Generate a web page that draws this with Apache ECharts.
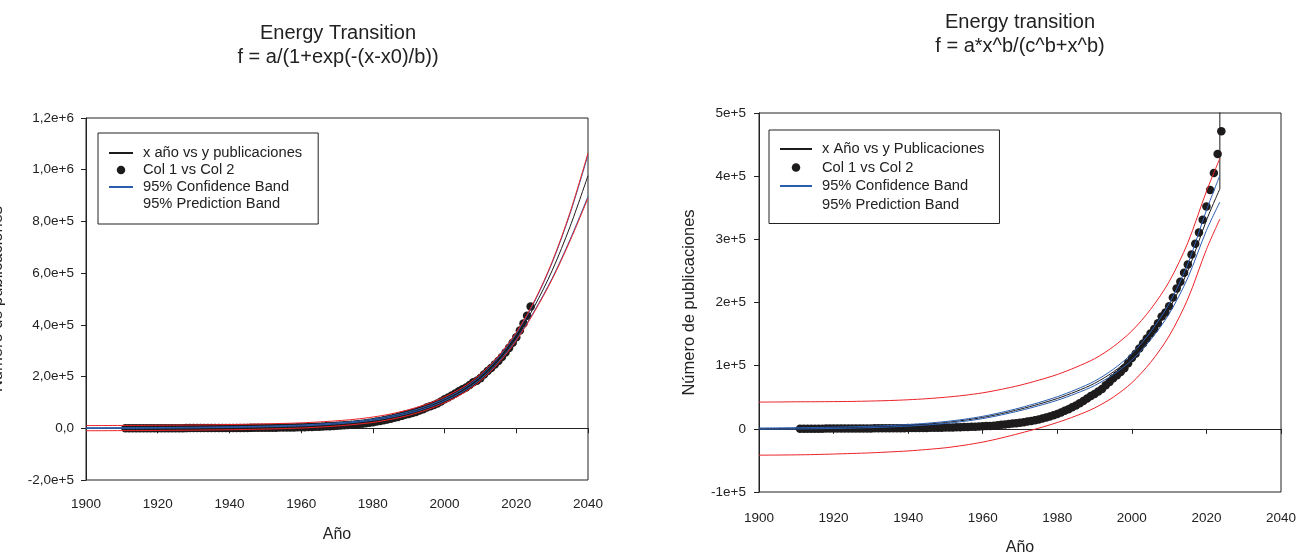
<!DOCTYPE html>
<html><head><meta charset="utf-8">
<script src="https://cdn.jsdelivr.net/npm/echarts@6/dist/echarts.min.js"></script>
<style>html,body{margin:0;padding:0;background:#fff;}#c{width:1305px;height:555px;}</style>
</head><body><div id="c"></div>
<script>
const FONT = '"Liberation Sans", Arial, Helvetica, sans-serif';
const K = 1000; // all series values below are in thousands of publications

// ---- observed data (Col 1 vs Col 2) ----
const years = [1911,1912,1913,1914,1915,1916,1917,1918,1919,1920,
  1921,1922,1923,1924,1925,1926,1927,1928,1929,1930,
  1931,1932,1933,1934,1935,1936,1937,1938,1939,1940,
  1941,1942,1943,1944,1945,1946,1947,1948,1949,1950,
  1951,1952,1953,1954,1955,1956,1957,1958,1959,1960,
  1961,1962,1963,1964,1965,1966,1967,1968,1969,1970,
  1971,1972,1973,1974,1975,1976,1977,1978,1979,1980,
  1981,1982,1983,1984,1985,1986,1987,1988,1989,1990,
  1991,1992,1993,1994,1995,1996,1997,1998,1999,2000,
  2001,2002,2003,2004,2005,2006,2007,2008,2009,2010,
  2011,2012,2013,2014,2015,2016,2017,2018,2019,2020,
  2021,2022,2023,2024];
const publications = [0.2,0.22,0.25,0.26,0.28,0.3,0.32,0.35,0.38,0.4,
  0.42,0.45,0.48,0.5,0.53,0.56,0.6,0.63,0.66,0.7,
  0.74,0.78,0.82,0.86,0.9,0.95,1.0,1.05,1.1,1.15,
  1.2,1.25,1.3,1.4,1.5,1.6,1.7,1.8,1.9,2.0,
  2.15,2.3,2.45,2.6,2.8,3.0,3.2,3.45,3.7,4.0,
  4.3,4.6,5.0,5.6,6.4,7.0,7.6,8.3,9.0,9.8,
  10.6,11.5,12.5,13.6,14.8,16.2,17.8,19.5,21.5,23.5,
  26,28.5,31,34,37,40.5,44,48,52,55,
  59,63,69,74,80,85,90,96,104,112,
  119,127,135,143,151,158,167,178,184,194,
  208,222,233,247,260,276,293,311,331,352,
  378,405,435,471];

// ---- left panel: logistic fit and bands ----
const leftCurveYears = [1900,1905,1910,1915,1920,1925,1930,1935,1940,1945,1950,1955,1960,1965,1970,1975,1980,1985,1990,1995,2000,2005,2010,2015,2020,2025,2030,2035,2040];
const leftFit    = [0.5,0.7,1.0,1.3,1.7,2.2,2.8,3.6,4.5,5.6,7,8.8,11,14.5,19,25,33,45,61,82,110,146,196,265,355,470,610,780,977];
const leftConfUp = [2.0,2.1,2.3,2.55,2.9,3.4,4.0,4.8,5.7,6.85,8.3,10.2,12.5,16.1,20.8,27,35.2,47.5,64,85.5,114,151,202,273,366,487,640,830,1057];
const leftConfLo = [-1.0,-0.7,-0.3,0.05,0.5,1.0,1.6,2.4,3.3,4.35,5.7,7.4,9.5,12.9,17.2,23,30.8,42.5,58,78.5,106,141,190,257,344,453,580,730,897];
const leftPredUp = [10.5,10.7,11.0,11.3,11.7,12.2,12.8,13.6,14.5,15.6,17,18.8,21,24.5,29,35,43.5,55.5,72,93,121.5,158,209,279,371,491,644,835,1064];
const leftPredLo = [-9.5,-9.3,-9.0,-8.7,-8.3,-7.8,-7.2,-6.4,-5.5,-4.4,-3,-1.2,1,4.5,9,15,22.5,34.5,50,71,98.5,134,183,251,339,449,576,725,890];

// ---- right panel: Hill-type fit and bands ----
const rightCurveYears = [1900,1905,1910,1915,1920,1925,1930,1935,1940,1945,1950,1955,1960,1965,1970,1975,1980,1985,1990,1995,2000,2005,2010,2015,2020,2023.6];
const rightFit    = [0.3,0.5,0.8,1.1,1.6,2.2,3,4.1,5.5,7.5,10,13.5,18,24,31,39,48,59,72,90,114,147,190,250,330,380];
const rightConfUp = [1.3,1.5,1.8,2.1,2.6,3.25,4.1,5.25,6.7,8.85,11.5,15.15,19.8,26,33.2,41.5,50.8,62.1,75.5,94.2,119,153.3,198,261,346,401];
const rightConfLo = [-0.7,-0.5,-0.2,0.1,0.6,1.15,1.9,2.95,4.3,6.15,8.5,11.85,16.2,22,28.8,36.5,45.2,55.9,68.5,85.8,109,140.7,182,239,314,359];
const rightPredUp = [42.3,42.5,42.8,42.9,43.1,43.4,44,44.8,46,47.7,50,53,57,62.5,69,77,86,97.5,111,130,155,189,233,294.5,376,428];
const rightPredLo = [-41.7,-41.5,-41.2,-40.7,-39.9,-39.0,-38,-36.6,-35,-32.7,-30,-26,-21,-14.5,-7,1,10,20.5,33,50,73,105,147,205.5,284,332];
const rightFitJumpYears = [2023.6,2023.6];
const rightFitJump = [380,700];

// ---- tick labels ----
const xTickYears = [1900,1920,1940,1960,1980,2000,2020,2040];
const leftYTickValues = [-200000,0,200000,400000,600000,800000,1000000,1200000];
const leftYTickLabels = ['-2,0e+5','0,0','2,0e+5','4,0e+5','6,0e+5','8,0e+5','1,0e+6','1,2e+6'];
const rightYTickValues = [-100000,0,100000,200000,300000,400000,500000];
const rightYTickLabels = ['-1e+5','0','1e+5','2e+5','3e+5','4e+5','5e+5'];

const BLACK = '#1e1b1c', BLUE = '#2a5db0', RED = '#ec2227', AXIS = '#222';

function pairs(xs, ys) { return xs.map((x, i) => [x, ys[i] * K]); }

function lineSeries(name, idx, xs, ys, color, smooth) {
  return {
    name, type: 'line', xAxisIndex: idx, yAxisIndex: idx,
    data: pairs(xs, ys), symbol: 'none', showSymbol: false,
    smooth: smooth === false ? false : 0.3,
    lineStyle: { color, width: 1 }, itemStyle: { color },
    clip: true, silent: true, animation: false
  };
}
function scatterSeries(idx) {
  return {
    name: 'Col 1 vs Col 2', type: 'scatter', xAxisIndex: idx, yAxisIndex: idx,
    data: pairs(years, publications), symbol: 'circle', symbolSize: 8.5,
    itemStyle: { color: BLACK, opacity: 1 }, clip: true, silent: true, animation: false
  };
}

function xAxis(idx, labelMargin, nameGap) {
  return {
    type: 'value', gridIndex: idx, min: 1900, max: 2040, interval: 20,
    name: 'Año', nameLocation: 'middle', nameGap,
    nameTextStyle: { fontSize: 16, color: AXIS, fontFamily: FONT },
    axisLine: { show: true, lineStyle: { color: AXIS, width: 1 } },
    axisTick: { show: true, length: 5, lineStyle: { color: AXIS } },
    axisLabel: { fontSize: 13.5, color: AXIS, fontFamily: FONT, margin: labelMargin,
      formatter: v => (xTickYears.indexOf(v) >= 0 ? String(v) : '') },
    splitLine: { show: false }
  };
}
function yAxis(idx, min, max, interval, values, labels, nameGap, margin) {
  return {
    type: 'value', gridIndex: idx, min, max, interval,
    name: 'Número de publicaciones', nameLocation: 'middle', nameGap,
    nameTextStyle: { fontSize: 16.5, color: AXIS, fontFamily: FONT },
    axisLine: { show: true, lineStyle: { color: AXIS, width: 1 } },
    axisTick: { show: true, length: 5, lineStyle: { color: AXIS } },
    axisLabel: { fontSize: 13.5, color: AXIS, fontFamily: FONT, margin,
      formatter: v => { const i = values.indexOf(Math.round(v)); return i >= 0 ? labels[i] : ''; } },
    splitLine: { show: false }
  };
}
function legend(left, top, fitName, itemWidth, gap, pad) {
  return {
    orient: 'vertical', left, top, itemWidth, itemHeight: 8.5, itemGap: gap,
    padding: pad, borderColor: AXIS, borderWidth: 1, borderRadius: 0,
    backgroundColor: '#fff', selectedMode: false,
    textStyle: { fontSize: 14.7, color: AXIS, fontFamily: FONT, lineHeight: 15, padding: [0, 0, 0, 5] },
    data: [
      { name: fitName, itemStyle: { opacity: 0 } },
      { name: 'Col 1 vs Col 2', icon: 'circle', itemStyle: { opacity: 1 } },
      { name: '95% Confidence Band', itemStyle: { opacity: 0 } },
      { name: '95% Prediction Band', icon: 'none' }
    ]
  };
}

const option = {
  backgroundColor: '#fff',
  animation: false,
  textStyle: { fontFamily: FONT },
  title: [
    { text: 'Energy Transition\nf = a/(1+exp(-(x-x0)/b))', left: 338, top: 21, textAlign: 'center', padding: 0,
      textStyle: { fontSize: 20, fontWeight: 'normal', lineHeight: 24, color: AXIS, fontFamily: FONT } },
    { text: 'Energy transition\nf = a*x^b/(c^b+x^b)', left: 1020, top: 10, textAlign: 'center', padding: 0,
      textStyle: { fontSize: 20, fontWeight: 'normal', lineHeight: 24, color: AXIS, fontFamily: FONT } }
  ],
  legend: [
    legend(98, 133, 'x año vs y publicaciones', 24, 2, [12.5, 16, 12.5, 10]),
    legend(769, 130, 'x Año vs y Publicaciones', 32, 3.5, [11.5, 15, 11.5, 10])
  ],
  grid: [
    { left: 86, right: 1305 - 588, top: 118, bottom: 555 - 480, show: true, borderColor: AXIS, borderWidth: 1,
      backgroundColor: 'transparent', containLabel: false, outerBoundsMode: 'none' },
    { left: 759, right: 1305 - 1281, top: 113, bottom: 555 - 492, show: true, borderColor: AXIS, borderWidth: 1,
      backgroundColor: 'transparent', containLabel: false, outerBoundsMode: 'none' }
  ],
  xAxis: [ xAxis(0, 17, 47), xAxis(1, 19.5, 48) ],
  yAxis: [
    yAxis(0, -200000, 1200000, 200000, leftYTickValues, leftYTickLabels, 80.5, 12),
    yAxis(1, -100000, 500000, 100000, rightYTickValues, rightYTickLabels, 60.75, 13)
  ],
  series: [
    scatterSeries(0),
    lineSeries('x año vs y publicaciones', 0, leftCurveYears, leftFit, BLACK),
    lineSeries('95% Confidence Band', 0, leftCurveYears, leftConfUp, BLUE),
    lineSeries('95% Confidence Band', 0, leftCurveYears, leftConfLo, BLUE),
    lineSeries('95% Prediction Band', 0, leftCurveYears, leftPredUp, RED),
    lineSeries('95% Prediction Band', 0, leftCurveYears, leftPredLo, RED),

    scatterSeries(1),
    lineSeries('x Año vs y Publicaciones', 1, rightCurveYears, rightFit, BLACK),
    lineSeries('x Año vs y Publicaciones', 1, rightFitJumpYears, rightFitJump, BLACK, false),
    lineSeries('95% Confidence Band', 1, rightCurveYears, rightConfUp, BLUE),
    lineSeries('95% Confidence Band', 1, rightCurveYears, rightConfLo, BLUE),
    lineSeries('95% Prediction Band', 1, rightCurveYears, rightPredUp, RED),
    lineSeries('95% Prediction Band', 1, rightCurveYears, rightPredLo, RED)
  ]
};

const chart = echarts.init(document.getElementById('c'), null, { renderer: 'canvas' });
chart.setOption(option);
</script>
</body></html>
